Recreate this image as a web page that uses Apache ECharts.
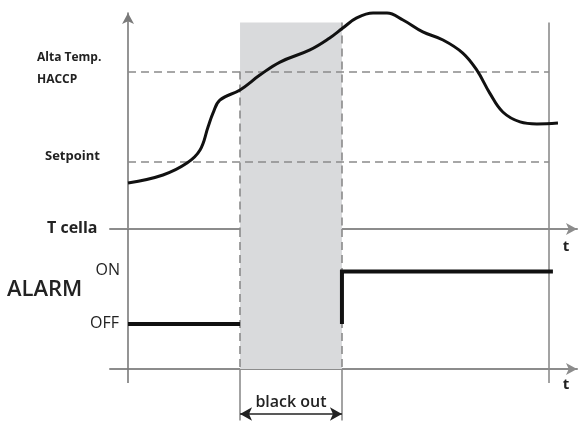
<!DOCTYPE html>
<html>
<head>
<meta charset="utf-8">
<script src="https://cdn.jsdelivr.net/npm/echarts@6/dist/echarts.min.js"></script>
<style>html,body{margin:0;padding:0;background:#fff}#c{width:580px;height:421px}</style>
</head>
<body>
<div id="c"></div>
<script>
// Time (arbitrary units) and temperature (arbitrary degrees)
const tempTime = [0, 8.3, 14.0, 17.1, 19.0, 20.2, 21.8, 26.6, 31.3, 36.1, 43.2, 47.9, 51.0, 54.3, 58.2, 61.5, 65.3, 70.0, 74.8, 79.5, 82.8, 85.9, 89.0, 93.1, 97.1, 102.1];
const tempValues = [3.04, 3.40, 3.93, 4.51, 5.53, 6.16, 6.73, 7.18, 7.84, 8.42, 8.96, 9.49, 9.93, 10.38, 10.6, 10.6, 10.29, 9.76, 9.4, 8.82, 8.07, 7.04, 6.2, 5.76, 5.67, 5.71];
const setpoint = 4;
const altaTemp = 8;
const blackoutStart = 26.6;
const blackoutEnd = 50.8;
const timeEnd = 100;
const alarmOffTime = [0, 26.6];
const alarmOffValues = [0, 0];
const alarmOnTime = [50.8, 50.8, 100.9];
const alarmOnValues = [0, 1, 1];
const alarmLabels = ['OFF', 'ON'];

const X_MIN = -4.28, X_MAX = 106.62;
const T_MIN = 1, T_MAX = 10.6, SHADE_TOP = 10.18;
const A_MIN = -1.848, A_MAX = 1.81, A_AXIS = -0.857, A_YEND = -1.124, A_ARROW = -1.715, A_BOTTOM = -1.84;

const axisGray = '#8c8c8c';
const dashGray = '#8a8a8a';
const txt = '#222';
const font = 'Open Sans';

const chart = echarts.init(document.getElementById('c'), null, {renderer: 'canvas'});

const noMarkLabel = {show: false};
function seg(x1, y1, x2, y2, style) {
  return [{coord: [x1, y1], lineStyle: style}, {coord: [x2, y2]}];
}
const dashed = {type: [8, 5], color: dashGray, width: 1.6};
const solid = {type: 'solid', color: axisGray, width: 1.6};
const yAxisStyle = {type: 'solid', color: '#7a7a7a', width: 1.6};

chart.setOption({
  animation: false,
  grid: [
    {left: 110, right: 3, top: 13, height: 216},
    {left: 110, right: 3, top: 229, height: 192}
  ],
  xAxis: [
    {gridIndex: 0, type: 'value', min: X_MIN, max: X_MAX,
     axisLine: {onZero: false, symbol: ['none', 'arrow'], symbolSize: [9, 11], lineStyle: {color: axisGray, width: 2}},
     axisTick: {show: false}, axisLabel: {show: false}, splitLine: {show: false}},
    {gridIndex: 1, type: 'value', min: X_MIN, max: X_MAX, offset: -52,
     axisLine: {onZero: false, symbol: ['none', 'arrow'], symbolSize: [9, 11], lineStyle: {color: axisGray, width: 2}},
     axisTick: {show: false}, axisLabel: {show: false}, splitLine: {show: false}}
  ],
  yAxis: [
    {gridIndex: 0, type: 'value', min: T_MIN, max: T_MAX,
     axisLine: {show: true, onZero: true, symbol: ['none', 'arrow'], symbolSize: [9, 11], lineStyle: {color: '#7a7a7a', width: 1.6}},
     axisTick: {show: false}, axisLabel: {show: false}, splitLine: {show: false}},
    {gridIndex: 1, type: 'value', min: A_MIN, max: A_MAX,
     axisLine: {show: false},
     axisTick: {show: false}, axisLabel: {show: false}, splitLine: {show: false}}
  ],
  series: [
    {
      type: 'line', xAxisIndex: 0, yAxisIndex: 0, data: [], clip: false, silent: true, z: 1,
      markArea: {silent: true, itemStyle: {color: '#d9dadc'},
        data: [[{coord: [blackoutStart, SHADE_TOP]}, {coord: [blackoutEnd, T_MIN]}]]},
      markLine: {silent: true, symbol: 'none', label: noMarkLabel, emphasis: {disabled: true},
        data: [
          seg(0, altaTemp, timeEnd, altaTemp, dashed),
          seg(0, setpoint, timeEnd, setpoint, dashed),
          seg(blackoutStart, altaTemp, blackoutStart, T_MIN, dashed),
          seg(blackoutEnd, SHADE_TOP, blackoutEnd, T_MIN, dashed),
          seg(timeEnd, SHADE_TOP, timeEnd, T_MIN, solid)
        ]}
    },
    {
      type: 'line', xAxisIndex: 1, yAxisIndex: 1, data: [], clip: false, silent: true, z: 1,
      markArea: {silent: true, itemStyle: {color: '#d9dadc'},
        data: [[{coord: [blackoutStart, A_MAX]}, {coord: [blackoutEnd, A_AXIS]}]]},
      markLine: {silent: true, symbol: 'none', label: noMarkLabel, emphasis: {disabled: true},
        data: [
          seg(0, A_MAX, 0, A_YEND, yAxisStyle),
          seg(blackoutStart, A_MAX, blackoutStart, A_AXIS, dashed),
          seg(blackoutEnd, A_MAX, blackoutEnd, A_AXIS, dashed),
          seg(blackoutStart, A_AXIS, blackoutStart, A_BOTTOM, solid),
          seg(blackoutEnd, A_AXIS, blackoutEnd, A_BOTTOM, solid),
          seg(timeEnd, A_MAX, timeEnd, A_YEND, solid),
          [{coord: [blackoutStart, A_ARROW], symbol: 'arrow', symbolSize: [10, 12],
            lineStyle: {type: 'solid', color: '#222', width: 1.5},
            label: {show: true, position: 'middle', formatter: 'black out', color: txt, fontFamily: font, fontSize: 16, fontWeight: 600, distance: 4}},
           {coord: [blackoutEnd, A_ARROW], symbol: 'arrow', symbolSize: [10, 12]}]
        ]}
    },
    {
      type: 'line', xAxisIndex: 0, yAxisIndex: 0, clip: false, smooth: 0.4, symbol: 'none', silent: true, z: 5,
      lineStyle: {color: '#111', width: 3},
      data: tempTime.map((t, i) => [t, tempValues[i]])
    },
    {
      type: 'line', xAxisIndex: 1, yAxisIndex: 1, clip: false, symbol: 'none', silent: true, z: 5,
      lineStyle: {color: '#111', width: 4},
      data: alarmOffTime.map((t, i) => [t, alarmOffValues[i]])
    },
    {
      type: 'line', xAxisIndex: 1, yAxisIndex: 1, clip: false, symbol: 'none', silent: true, z: 5,
      lineStyle: {color: '#111', width: 4, join: 'miter'},
      data: alarmOnTime.map((t, i) => [t, alarmOnValues[i]])
    }
  ],
  graphic: [
    {type: 'text', x: 37, y: 58, style: {text: 'Alta Temp.', font: 'bold 12px "Open Sans"', fill: txt, align: 'left', verticalAlign: 'middle'}},
    {type: 'text', x: 37, y: 80, style: {text: 'HACCP', font: 'bold 12px "Open Sans"', fill: txt, align: 'left', verticalAlign: 'middle'}},
    {type: 'text', x: 45, y: 156, style: {text: 'Setpoint', font: 'bold 13px "Open Sans"', fill: txt, align: 'left', verticalAlign: 'middle'}},
    {type: 'text', x: 47, y: 228, style: {text: 'T cella', font: 'bold 16px "Open Sans"', fill: txt, align: 'left', verticalAlign: 'middle'}},
    {type: 'text', x: 120, y: 270, style: {text: alarmLabels[1], font: '16px "Open Sans"', fill: txt, align: 'right', verticalAlign: 'middle'}},
    {type: 'text', x: 119, y: 323, style: {text: alarmLabels[0], font: '16px "Open Sans"', fill: txt, align: 'right', verticalAlign: 'middle'}},
    {type: 'text', x: 7, y: 290, style: {text: 'ALARM', font: '600 22px "Open Sans"', fill: txt, align: 'left', verticalAlign: 'middle'}},
    {type: 'text', x: 566, y: 247, style: {text: 't', font: 'bold 15px "Open Sans"', fill: txt, align: 'center', verticalAlign: 'middle'}},
    {type: 'text', x: 566, y: 385, style: {text: 't', font: 'bold 15px "Open Sans"', fill: txt, align: 'center', verticalAlign: 'middle'}}
  ]
});
</script>
</body>
</html>
